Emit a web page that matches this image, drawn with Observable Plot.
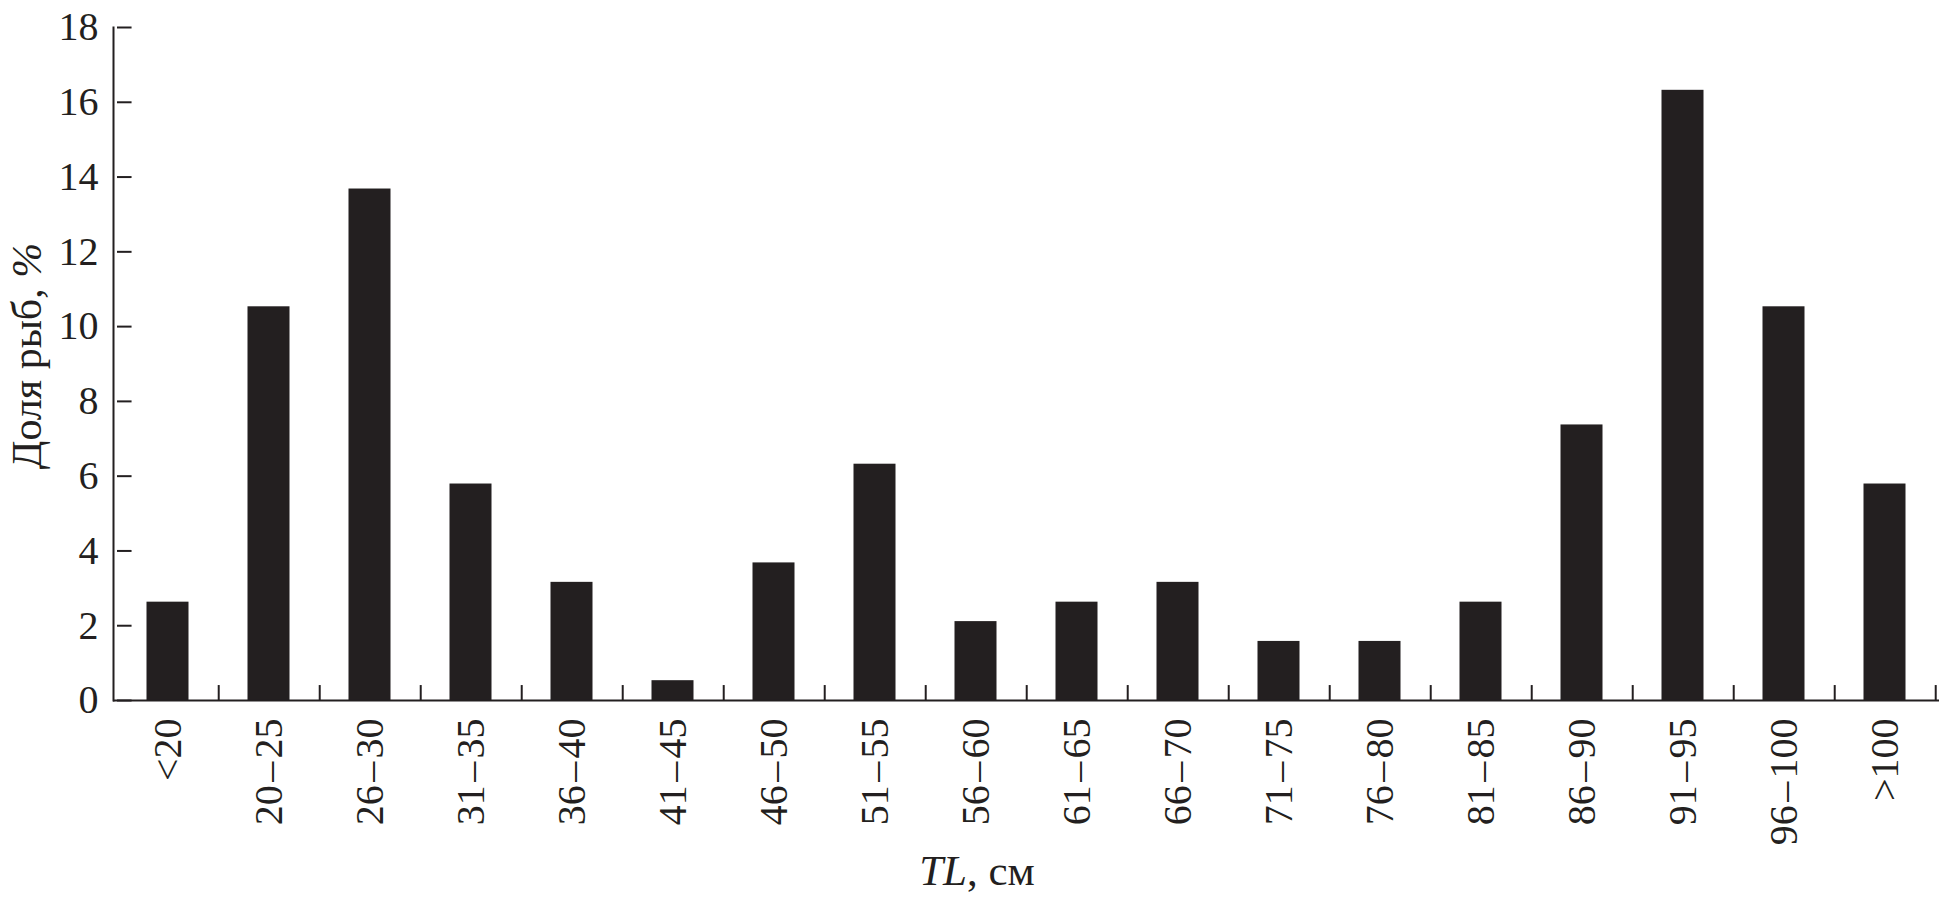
<!DOCTYPE html>
<html><head><meta charset="utf-8">
<script src="https://cdn.jsdelivr.net/npm/d3@7"></script>
<script src="https://cdn.jsdelivr.net/npm/@observablehq/plot@0.6"></script>
<style>body{margin:0;background:#fff}</style>
</head><body><div id="chart"></div>
<script>
const categories = ["<20","20\u200A–\u200A25","26\u200A–\u200A30","31\u200A–\u200A35","36\u200A–\u200A40","41\u200A–\u200A45","46\u200A–\u200A50","51\u200A–\u200A55","56\u200A–\u200A60","61\u200A–\u200A65","66\u200A–\u200A70","71\u200A–\u200A75","76\u200A–\u200A80","81\u200A–\u200A85","86\u200A–\u200A90","91\u200A–\u200A95","96\u200A–\u200A100",">100"];
const shares = [2.63,10.53,13.68,5.79,3.16,0.53,3.68,6.32,2.11,2.63,3.16,1.58,1.58,2.63,7.37,16.32,10.53,5.79];
const yTicks = [0,2,4,6,8,10,12,14,16,18];
const yLabelText = "Доля рыб, ";
const yLabelUnit = "%";
const xLabelVar = "TL";
const xLabelUnit = ", см";

const data = categories.map((c, i) => ({cat: c, share: shares[i]}));
const W = 1944, H = 901, mL = 113, mR = 5, mT = 27, mB = 201;
const bw = (W - mL - mR) / categories.length;
const ink = "#231f20";

const chart = Plot.plot({
  width: W, height: H,
  marginLeft: mL, marginRight: mR, marginTop: mT, marginBottom: mB,
  style: {fontFamily: "'Liberation Serif', serif", fontSize: "40px", color: ink, background: "white"},
  x: {type: "band", domain: categories, paddingInner: 0, paddingOuter: 0, axis: null},
  y: {domain: [0, 18], axis: null},
  marks: [
    Plot.barY(data, {x: "cat", y: "share", fill: ink, insetLeft: 29.5, insetRight: 29.5}),
    Plot.ruleY([0], {stroke: ink, strokeWidth: 2}),
    Plot.frame({anchor: "left", stroke: ink, strokeWidth: 2}),
    Plot.ruleX(categories, {x: d => d, y1: 0, y2: 0.4, dx: bw / 2, stroke: ink, strokeWidth: 2}),
    Plot.tickY(yTicks, {y: d => d, x: () => categories[0], insetRight: bw - 15, stroke: ink, strokeWidth: 2}),
    Plot.axisY(yTicks, {tickSize: 0, tickPadding: 15, fontSize: 40, label: null}),
    Plot.axisX({tickRotate: -90, tickSize: 0, tickPadding: 18, fontSize: 40, label: null})
  ]
});
document.getElementById("chart").append(chart);

const svg = d3.select(chart);
const yl = svg.append("text")
  .attr("transform", "translate(41,356) rotate(-90)")
  .attr("text-anchor", "middle")
  .attr("font-size", 42).attr("fill", ink)
  .attr("font-family", "'Liberation Serif', serif");
yl.append("tspan").text(yLabelText);
yl.append("tspan").attr("font-style", "italic").text(yLabelUnit);

const xl = svg.append("text")
  .attr("x", 977).attr("y", 885)
  .attr("text-anchor", "middle")
  .attr("font-size", 43).attr("fill", ink)
  .attr("font-family", "'Liberation Serif', serif");
xl.append("tspan").attr("font-style", "italic").text(xLabelVar);
xl.append("tspan").text(xLabelUnit);
</script>
</body></html>
